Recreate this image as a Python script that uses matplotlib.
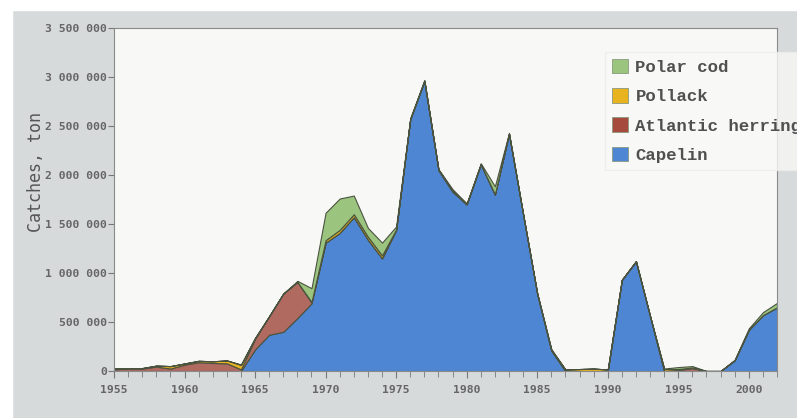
import numpy as np
import matplotlib
matplotlib.use("Agg")
import matplotlib.pyplot as plt
from matplotlib.patches import Rectangle
from matplotlib.ticker import FuncFormatter, MultipleLocator

years = np.arange(1955, 2003)

# catches in tons
capelin = [0, 0, 0, 0, 0, 0, 0, 0, 0, 0,
           220000, 370000, 400000, 540000, 690000,
           1310000, 1410000, 1570000, 1340000, 1150000,
           1440000, 2570000, 2960000, 2050000, 1830000,
           1700000, 2110000, 1800000, 2420000, 1600000,
           790000, 210000, 0, 0, 0,
           0, 930000, 1120000, 560000, 0,
           0, 0, 0, 0, 110000,
           420000, 570000, 650000]
herring = [17000, 25000, 25000, 45000, 25000, 65000, 90000, 82000, 78000, 17000,
           110000, 190000, 390000, 370000, 10000,
           0, 0, 0, 0, 0,
           0, 0, 0, 0, 0,
           0, 0, 0, 0, 0,
           0, 0, 0, 0, 0,
           0, 0, 0, 0, 0,
           10000, 30000, 0, 0, 0,
           0, 0, 0]
pollack = [7000, 5000, 5000, 10000, 25000, 12000, 14000, 17000, 30000, 45000,
           5000, 0, 0, 0, 5000,
           25000, 30000, 30000, 30000, 30000,
           5000, 0, 0, 5000, 10000,
           5000, 0, 5000, 0, 0,
           0, 5000, 15000, 20000, 25000,
           15000, 0, 0, 0, 20000,
           10000, 5000, 0, 0, 0,
           0, 0, 0]
polar_cod = [0, 0, 0, 0, 0, 0, 0, 0, 0, 5000,
             5000, 0, 0, 10000, 140000,
             280000, 320000, 190000, 90000, 130000,
             30000, 10000, 10000, 5000, 15000,
             5000, 10000, 80000, 10000, 5000,
             5000, 10000, 0, 0, 0,
             0, 0, 0, 0, 5000,
             20000, 15000, 0, 0, 5000,
             15000, 30000, 45000]

labels = ["Capelin", "Atlantic herring", "Pollack", "Polar cod"]
colors = ["#4f86d4", "#b06a60", "#e8b31e", "#9bc47e"]
legend_colors = ["#4f86d4", "#a54a3c", "#e8b31e", "#9bc47e"]

fig = plt.figure(figsize=(7.97, 4.18), dpi=100, facecolor="#d6dadb")
fig.add_artist(Rectangle((0, 1 - 10 / 418), 1, 10 / 418, transform=fig.transFigure,
                         color="white", zorder=-1))
fig.add_artist(Rectangle((0, 0), 12 / 797, 1, transform=fig.transFigure,
                         color="white", zorder=-1))

ax = fig.add_axes([114 / 797, 1 - 371 / 418, (777 - 114) / 797, (371 - 28) / 418])
ax.set_facecolor("#f8f8f6")

ax.stackplot(years, capelin, herring, pollack, polar_cod, colors=colors,
             edgecolor="#4a5340", linewidth=0.8)

ax.set_xlim(1955, 2002)
ax.set_ylim(0, 3500000)
ax.xaxis.set_major_locator(MultipleLocator(5))
ax.xaxis.set_minor_locator(MultipleLocator(1))
ax.yaxis.set_major_locator(MultipleLocator(500000))
ax.yaxis.set_major_formatter(FuncFormatter(lambda v, p: f"{int(v):,}".replace(",", " ")))

for lab in ax.get_xticklabels() + ax.get_yticklabels():
    lab.set_fontfamily("DejaVu Sans Mono")
    lab.set_fontsize(8.2)
    lab.set_fontweight("bold")
    lab.set_color("#666666")
ax.tick_params(axis="x", which="major", length=5, color="#777777", pad=5)
ax.tick_params(axis="x", which="minor", length=4, color="#777777")
ax.tick_params(axis="y", length=4, color="#777777", pad=1)
for s in ax.spines.values():
    s.set_color("#8a8a8a")
    s.set_linewidth(0.8)

fig.text(36 / 797, 1 - 172 / 418, "Catches, ton", rotation=90, ha="center", va="center",
         family="DejaVu Sans Mono", fontsize=12, color="#555555")

handles = [Rectangle((0, 0), 1, 1, facecolor=c, edgecolor="#8a9a80", linewidth=0.6)
           for c in legend_colors]
leg = fig.legend(handles[::-1], labels[::-1], loc="upper left",
                 bbox_to_anchor=(605 / 797, 1 - 52 / 418), bbox_transform=fig.transFigure,
                 borderaxespad=0, handlelength=0.9, handleheight=0.9, handletextpad=0.45,
                 labelspacing=0.75, fancybox=False,
                 prop=dict(family="Liberation Mono", size=12.5, weight="bold"))
leg.get_frame().set_edgecolor("#ececec")
leg.get_frame().set_facecolor("#f8f8f6")
for t in leg.get_texts():
    t.set_color("#505050")

fig.savefig("out.png", dpi=100, facecolor=fig.get_facecolor())
